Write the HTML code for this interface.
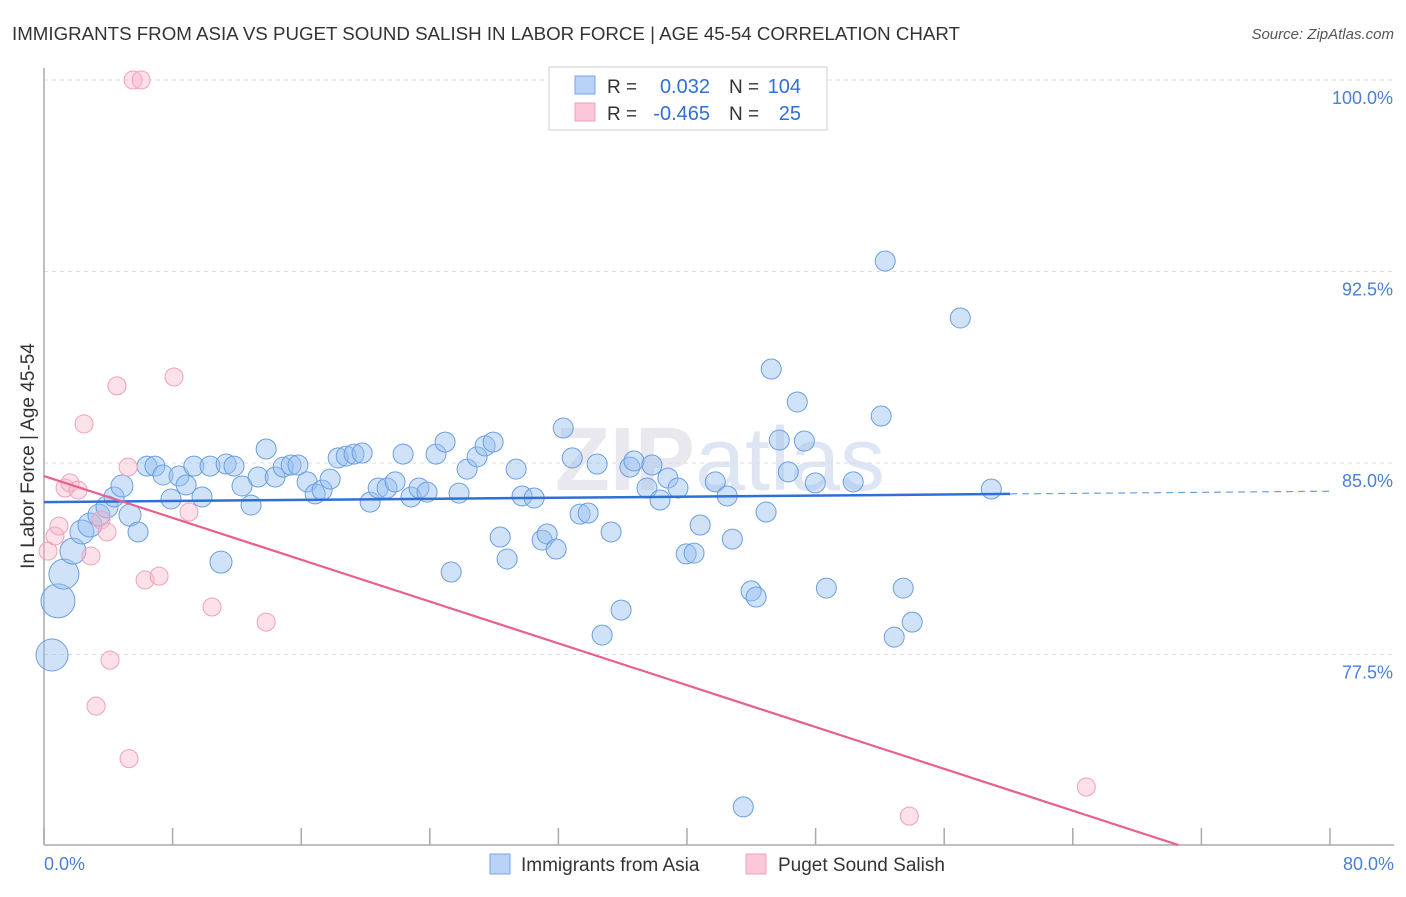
<!DOCTYPE html>
<html><head><meta charset="utf-8"><style>
body{margin:0;background:#fff;font-family:"Liberation Sans",sans-serif;}
svg text{font-family:"Liberation Sans",sans-serif;}
</style></head><body>
<svg id="chart" width="1406" height="892" xmlns="http://www.w3.org/2000/svg">
<text x="12" y="40" font-size="18" fill="#333" textLength="948" lengthAdjust="spacingAndGlyphs">IMMIGRANTS FROM ASIA VS PUGET SOUND SALISH IN LABOR FORCE | AGE 45-54 CORRELATION CHART</text>
<text x="1394" y="39" font-size="15" fill="#555" text-anchor="end" font-style="italic">Source: ZipAtlas.com</text>
<text x="720" y="490" font-size="90" fill="#e8e8ee" text-anchor="middle" font-weight="bold">ZIP<tspan fill="#dfe6f3" font-weight="normal">atlas</tspan></text>
<g id="grid"></g>
<g id="axes"></g>
<g id="pts"></g>
<g id="trend"></g>
<text transform="translate(34,456) rotate(-90)" font-size="19" fill="#333" text-anchor="middle">In Labor Force | Age 45-54</text>
<text x="44" y="870" font-size="18" fill="#4a7fd4">0.0%</text>
<text x="1394" y="870" font-size="18" fill="#4a7fd4" text-anchor="end">80.0%</text>
<g>
<rect x="549" y="67" width="278" height="63" fill="#fff" stroke="#ccc"/>
<rect x="575" y="76" width="20" height="18" fill="#b8d3f5" stroke="#7aa6e6"/>
<rect x="575" y="103" width="20" height="18" fill="#fcc7d6" stroke="#f0a0b8"/>
<text x="607" y="93" font-size="19" fill="#333">R =</text>
<text x="710" y="93" font-size="20" fill="#2f6fd6" text-anchor="end">0.032</text>
<text x="729" y="93" font-size="19" fill="#333">N =</text>
<text x="801" y="93" font-size="20" fill="#2f6fd6" text-anchor="end">104</text>
<text x="607" y="120" font-size="19" fill="#333">R =</text>
<text x="710" y="120" font-size="20" fill="#2f6fd6" text-anchor="end">-0.465</text>
<text x="729" y="120" font-size="19" fill="#333">N =</text>
<text x="801" y="120" font-size="20" fill="#2f6fd6" text-anchor="end">25</text>
</g>
<g>
<rect x="490" y="854" width="20" height="20" fill="#b8d3f5" stroke="#7aa6e6"/>
<text x="521" y="871" font-size="19" fill="#333">Immigrants from Asia</text>
<rect x="746" y="854" width="20" height="20" fill="#fcc7d6" stroke="#f0a0b8"/>
<text x="778" y="871" font-size="19" fill="#333">Puget Sound Salish</text>
</g>
</svg>
<script>
const yTicks=[100,92.5,85,77.5];
const yTickLabels=["100.0%","92.5%","85.0%","77.5%"];
const xTicks=[0,8,16,24,32,40,48,56,64,72,80];
const blueX=[0.5,0.87,1.24,1.8,2.36,2.86,3.42,3.92,4.36,4.85,5.35,5.85,6.41,6.9,7.4,7.9,8.4,8.84,9.32,9.83,10.33,11.01,11.33,11.82,12.32,12.88,13.32,13.82,14.38,14.88,15.37,15.8,16.37,16.87,17.3,17.8,18.3,18.8,19.29,19.79,20.29,20.79,21.34,21.84,22.34,22.83,23.33,23.83,24.39,24.95,25.33,25.82,26.32,26.94,27.44,27.94,28.38,28.81,29.37,29.74,30.49,30.99,31.3,31.86,32.3,32.86,33.35,33.85,34.41,34.72,35.28,35.9,36.45,36.7,37.51,37.82,38.32,38.81,39.44,39.95,40.44,40.82,41.76,42.5,42.82,43.5,43.99,44.3,44.92,45.24,45.74,46.3,46.86,47.3,47.98,48.67,50.34,52.08,52.33,52.89,53.45,54.01,57.0,58.93];
const blueY=[77.48,79.6,80.65,81.55,82.3,82.57,82.96,83.28,83.67,84.1,82.96,82.3,84.88,84.88,84.53,83.59,84.49,84.14,84.88,83.67,84.88,81.12,84.96,84.88,84.1,83.35,84.45,85.55,84.45,84.84,84.92,84.92,84.26,83.79,83.94,84.37,85.2,85.27,85.35,85.39,83.47,84.02,84.02,84.26,85.35,83.67,84.02,83.86,85.35,85.82,80.73,83.82,84.76,85.24,85.67,85.82,82.1,81.24,84.76,83.71,83.63,81.98,82.22,81.63,86.37,85.2,83.0,83.04,84.96,78.26,82.3,79.24,84.84,85.08,84.02,84.92,83.55,84.41,84.02,81.44,81.47,82.57,84.26,83.71,82.02,71.53,79.99,79.75,83.08,88.68,85.9,84.65,87.39,85.86,84.22,80.1,84.26,86.84,92.91,78.18,80.1,78.77,90.68,83.98];
const blueR=[16,17,15,13,12,12,11,11,10,11,11,10,10,10,10,10,10,10,10,10,10,11,10,10,10,10,10,10,10,10,10,10,10,10,10,10,10,10,10,10,10,10,10,10,10,10,10,10,10,10,10,10,10,10,10,10,10,10,10,10,10,10,10,10,10,10,10,10,10,10,10,10,10,10,10,10,10,10,10,10,10,10,10,10,10,10,10,10,10,10,10,10,10,10,10,10,10,10,10,10,10,10,10,10];
const pinkX=[0.25,0.68,0.93,1.31,1.62,2.12,2.49,2.92,3.24,3.55,3.92,4.11,4.54,5.23,5.29,5.54,6.04,6.29,7.16,8.09,9.02,10.45,13.82,53.83,64.84];
const pinkY=[81.55,82.14,82.53,84.02,84.22,83.94,86.53,81.36,75.48,82.77,82.3,77.28,88.02,84.84,73.42,100,100,80.42,80.57,88.37,83.08,79.36,78.77,71.17,72.31];
const blueTrend=[83.47,0.0053];
const pinkTrend=[84.49,-0.2048];
const X0=44,X1=1330,Y0=80,Y1=463;
const xs=v=>X0+(X1-X0)*v/80;
const ys=v=>Y0+(Y1-Y0)*(100-v)/15;
const NS="http://www.w3.org/2000/svg";
function mk(p,t,a){const e=document.createElementNS(NS,t);for(const k in a)e.setAttribute(k,a[k]);p.appendChild(e);return e;}
const grid=document.getElementById('grid'),axes=document.getElementById('axes'),pts=document.getElementById('pts'),tr=document.getElementById('trend');
yTicks.forEach((t,i)=>{
 const l=mk(grid,'line',{x1:X0,x2:1394,y1:ys(t),y2:ys(t),stroke:'#ddd','stroke-dasharray':'4,4'});
 
 
 const tx=mk(grid,'text',{x:1393,y:ys(t)+24,'font-size':18,fill:'#4a7fd4','text-anchor':'end'});
 tx.textContent=yTickLabels[i];
 
 
});
const ya=mk(axes,'line',{x1:X0,x2:X0,y1:68,y2:845,stroke:'#aaa','stroke-width':1.5});


const xa=mk(axes,'line',{x1:X0,x2:1394,y1:845,y2:845,stroke:'#aaa','stroke-width':1.5});


xTicks.forEach(t=>{
 const l=mk(axes,'line',{x1:xs(t),x2:xs(t),y1:828,y2:845,stroke:'#aaa','stroke-width':1.5});
 
 
});
blueX.forEach((v,i)=>{
 const c=mk(pts,'circle',{cx:xs(v),cy:ys(blueY[i]),r:blueR[i],fill:'rgba(150,190,240,0.45)',stroke:'#6a9fe0','stroke-width':1});
 
 
});
pinkX.forEach((v,i)=>{
 const c=mk(pts,'circle',{cx:xs(v),cy:ys(pinkY[i]),r:9,fill:'rgba(250,180,200,0.4)',stroke:'#f0a0b8','stroke-width':1});
 
 
});
const bl=v=>blueTrend[0]+blueTrend[1]*v;
const b1=mk(tr,'line',{x1:xs(0),y1:ys(bl(0)),x2:xs(60.1),y2:ys(bl(60.1)),stroke:'#2f6fd6','stroke-width':2.5});


const b2=mk(tr,'line',{x1:xs(60.1),y1:ys(bl(60.1)),x2:xs(80),y2:ys(bl(80)),stroke:'#6a9fe0','stroke-width':1.2,'stroke-dasharray':'7,5'});


const pl=v=>pinkTrend[0]+pinkTrend[1]*v;
const xe=(70.04-pinkTrend[0])/pinkTrend[1];
const p1=mk(tr,'line',{x1:xs(0),y1:ys(pl(0)),x2:xs(xe),y2:ys(pl(xe)),stroke:'#e8608f','stroke-width':2.2});


</script>
</body></html>
